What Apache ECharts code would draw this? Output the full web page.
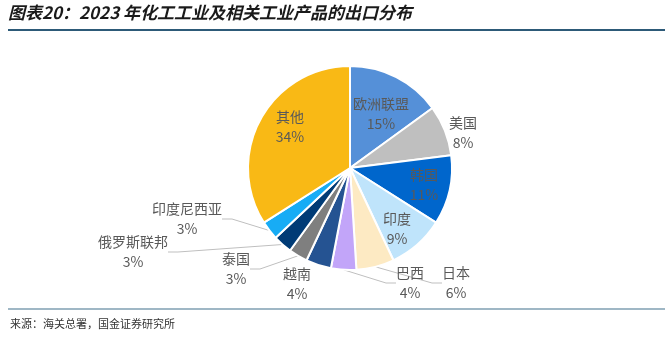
<!DOCTYPE html>
<html><head><meta charset="utf-8">
<script src="https://cdn.jsdelivr.net/npm/echarts@6/dist/echarts.min.js"></script>
<style>html,body{margin:0;padding:0;background:#fff}#c{width:665px;height:338px}</style>
</head><body><div id="c"></div>
<script>
const categories = ['欧洲联盟','美国','韩国','印度','日本','巴西','越南','泰国','俄罗斯联邦','印度尼西亚','其他'];
const shares = [15, 8, 11, 9, 6, 4, 4, 3, 3, 3, 34];
const colors = ['#5590D8','#BFBFBF','#0066CC','#BFE4FB','#FDEAC3','#C2A5F9','#255392','#7F7F7F','#003B76','#17ACF5','#F9B915'];
const insideLabels = ['欧洲联盟','韩国','印度','其他'];
// label anchor centres (layout only)
const labelAt = {
  '欧洲联盟':[381,114], '美国':[463,133], '韩国':[424,185], '印度':[397,229],
  '日本':[456,283], '巴西':[410,283], '越南':[297,284], '泰国':[236,269],
  '俄罗斯联邦':[133,252], '印度尼西亚':[187,219], '其他':[290,127]
};
const chart = echarts.init(document.getElementById('c'));
const data = categories.map((n,i)=>({
  name:n, value:shares[i],
  itemStyle:{color:colors[i]},
  labelLine:{show: insideLabels.indexOf(n) < 0 && n !== '美国' && n !== '越南'}
}));
chart.setOption({
  animation:false,
  graphic:[
    {type:'text', left:8, top:4, style:{text:'图表20：2023 年化工工业及相关工业产品的出口分布', font:'italic bold 17px "Noto Sans CJK SC", sans-serif', fill:'#1a1a1a'}},
    {type:'line', shape:{x1:8,y1:30,x2:665,y2:30}, style:{stroke:'#2d5a78', lineWidth:2}},
    {type:'line', shape:{x1:8,y1:309,x2:665,y2:309}, style:{stroke:'#7f9fb2', lineWidth:1.5}},
    {type:'text', left:10, top:318, style:{text:'来源：海关总署，国金证券研究所', font:'11px "Noto Sans CJK SC", sans-serif', fill:'#333'}}
  ],
  series:[{
    type:'pie',
    center:[350,168],
    radius:[0,102],
    startAngle:90,
    clockwise:true,
    data:data,
    itemStyle:{borderColor:'#fff', borderWidth:2},
    label:{
      show:true, position:'outside',
      formatter:p=>p.name+'\n'+p.value+'%',
      color:'#595959', fontSize:14, lineHeight:20,
      fontFamily:'"Noto Sans CJK SC", sans-serif', align:'center'
    },
    labelLine:{lineStyle:{color:'#BFBFBF', width:1}, length:10, length2:10},
    labelLayout:function(p){
      const pos = labelAt[categories[p.dataIndex]];
      return {x:pos[0], y:pos[1], align:'center', verticalAlign:'middle'};
    }
  }]
});
</script></body></html>
